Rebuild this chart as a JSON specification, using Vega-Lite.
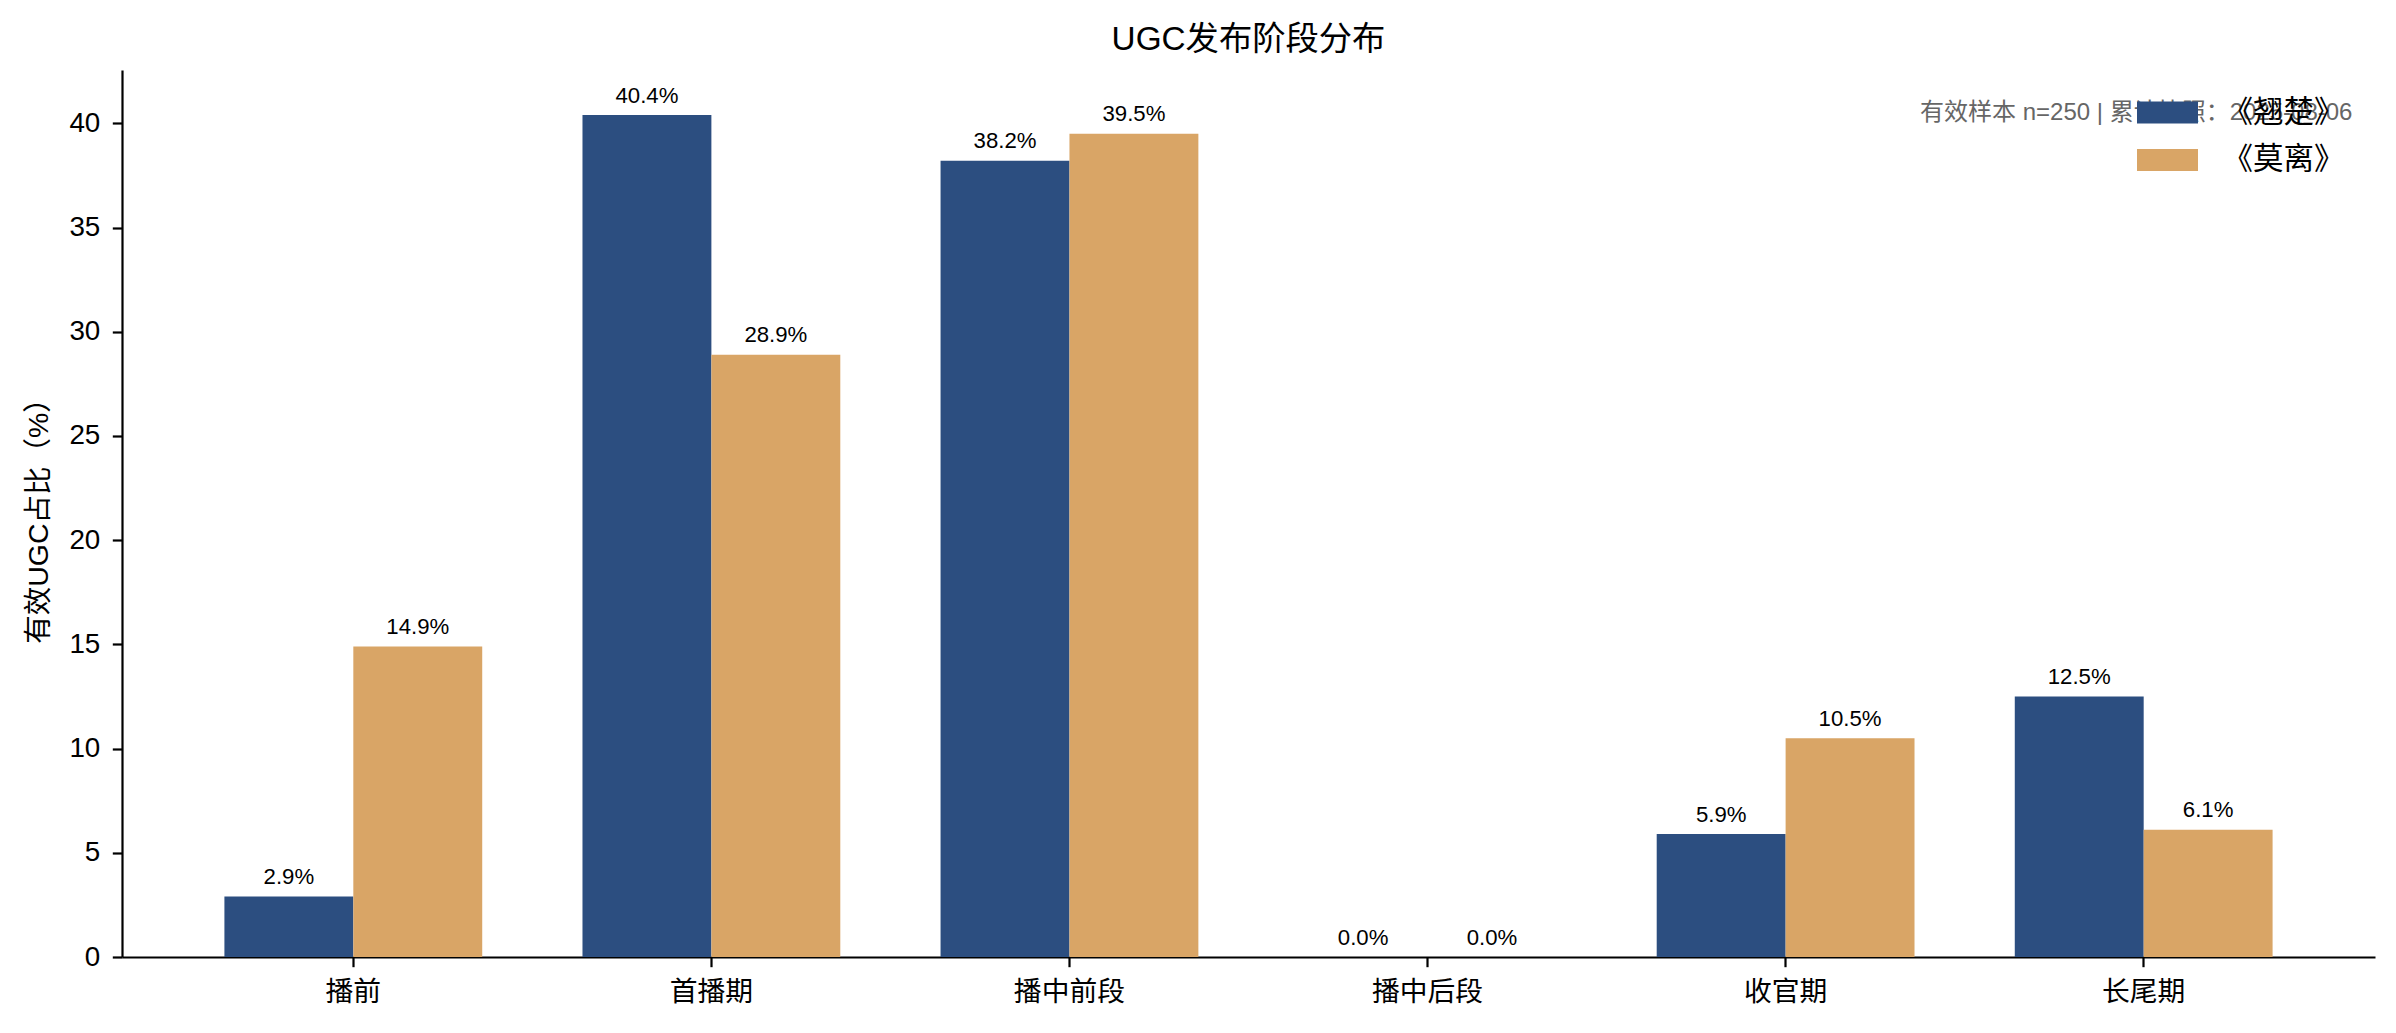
{
  "$schema": "https://vega.github.io/schema/vega-lite/v6.json",
  "width": 2253,
  "height": 887,
  "autosize": {"type": "none"},
  "padding": {"left": 122, "top": 70, "right": 21, "bottom": 76},
  "background": "white",
  "config": {
    "view": {"stroke": null},
    "font": "Liberation Sans, Noto Sans CJK SC",
    "text": {"font": "Liberation Sans, Noto Sans CJK SC"},
    "axisX": {
      "labelAngle": 0,
      "bandPosition": 0.5,
      "tickSize": 9.7,
      "tickWidth": 2.2,
      "tickColor": "black",
      "domainColor": "black",
      "domainWidth": 2.2,
      "labelFontSize": 27.8,
      "labelColor": "black",
      "labelPadding": 12,
      "labelFont": "Liberation Sans, Noto Sans CJK SC",
      "grid": false
    },
    "axisY": {
      "tickSize": 9.7,
      "tickWidth": 2.2,
      "tickColor": "black",
      "domainColor": "black",
      "domainWidth": 2.2,
      "labelFontSize": 27.8,
      "labelColor": "black",
      "labelPadding": 12.5,
      "labelFont": "Liberation Sans, Noto Sans CJK SC",
      "grid": false,
      "titleFontSize": 28.5,
      "titleFontWeight": "normal",
      "titleColor": "black",
      "titleFont": "Liberation Sans, Noto Sans CJK SC",
      "titlePadding": 15
    }
  },
  "title": {
    "text": "UGC发布阶段分布",
    "fontSize": 33.3,
    "fontWeight": "normal",
    "color": "black",
    "font": "Liberation Sans, Noto Sans CJK SC",
    "baseline": "alphabetic",
    "offset": -13,
    "anchor": "middle"
  },
  "data": {
    "values": [
      {"stage": "播前", "series": "《翘楚》", "value": 2.9, "label": "2.9%"},
      {"stage": "播前", "series": "《莫离》", "value": 14.9, "label": "14.9%"},
      {"stage": "首播期", "series": "《翘楚》", "value": 40.4, "label": "40.4%"},
      {"stage": "首播期", "series": "《莫离》", "value": 28.9, "label": "28.9%"},
      {"stage": "播中前段", "series": "《翘楚》", "value": 38.2, "label": "38.2%"},
      {"stage": "播中前段", "series": "《莫离》", "value": 39.5, "label": "39.5%"},
      {"stage": "播中后段", "series": "《翘楚》", "value": 0.0, "label": "0.0%"},
      {"stage": "播中后段", "series": "《莫离》", "value": 0.0, "label": "0.0%"},
      {"stage": "收官期", "series": "《翘楚》", "value": 5.9, "label": "5.9%"},
      {"stage": "收官期", "series": "《莫离》", "value": 10.5, "label": "10.5%"},
      {"stage": "长尾期", "series": "《翘楚》", "value": 12.5, "label": "12.5%"},
      {"stage": "长尾期", "series": "《莫离》", "value": 6.1, "label": "6.1%"}
    ]
  },
  "layer": [
    {
      "mark": {"type": "bar"},
      "encoding": {
        "x": {
          "field": "stage",
          "type": "nominal",
          "sort": ["播前", "首播期", "播中前段", "播中后段", "收官期", "长尾期"],
          "scale": {"paddingInner": 0.28, "paddingOuter": 0.286},
          "title": null
        },
        "xOffset": {
          "field": "series",
          "type": "nominal",
          "sort": ["《翘楚》", "《莫离》"],
          "scale": {"paddingInner": 0, "paddingOuter": 0}
        },
        "y": {
          "field": "value",
          "type": "quantitative",
          "scale": {"domain": [0, 42.56], "nice": false, "zero": true},
          "title": "有效UGC占比（%）",
          "axis": {"values": [0, 5, 10, 15, 20, 25, 30, 35, 40]}
        },
        "color": {
          "field": "series",
          "type": "nominal",
          "scale": {"domain": ["《翘楚》", "《莫离》"], "range": ["#2c4e80", "#d9a566"]},
          "legend": {
            "orient": "none",
            "legendX": 2015,
            "legendY": 12,
            "title": null,
            "symbolType": "M-1,-0.36H1V0.36H-1Z",
            "symbolSize": 3721,
            "symbolStrokeWidth": 0,
            "symbolOpacity": 1,
            "labelFontSize": 30.5,
            "labelFont": "Liberation Sans, Noto Sans CJK SC",
            "labelColor": "black",
            "labelOffset": 24.5,
            "rowPadding": 1.6,
            "padding": 0
          }
        }
      }
    },
    {
      "mark": {"type": "text", "fontSize": 22.2, "baseline": "alphabetic", "dy": -12.5, "color": "black", "align": "center"},
      "encoding": {
        "x": {
          "field": "stage",
          "type": "nominal",
          "sort": ["播前", "首播期", "播中前段", "播中后段", "收官期", "长尾期"],
          "title": null
        },
        "xOffset": {
          "field": "series",
          "type": "nominal",
          "sort": ["《翘楚》", "《莫离》"]
        },
        "y": {"field": "value", "type": "quantitative", "title": "有效UGC占比（%）"},
        "text": {"field": "label"}
      }
    },
    {
      "data": {"values": [{"note": "有效样本 n=250 | 累计快照：2025-08-06"}]},
      "mark": {
        "type": "text",
        "x": {"expr": "width*0.99"},
        "align": "right",
        "baseline": "middle",
        "fontSize": 24,
        "color": "#666666"
      },
      "encoding": {
        "y": {"datum": 40.52, "type": "quantitative", "title": "有效UGC占比（%）"},
        "text": {"field": "note"}
      }
    }
  ]
}
